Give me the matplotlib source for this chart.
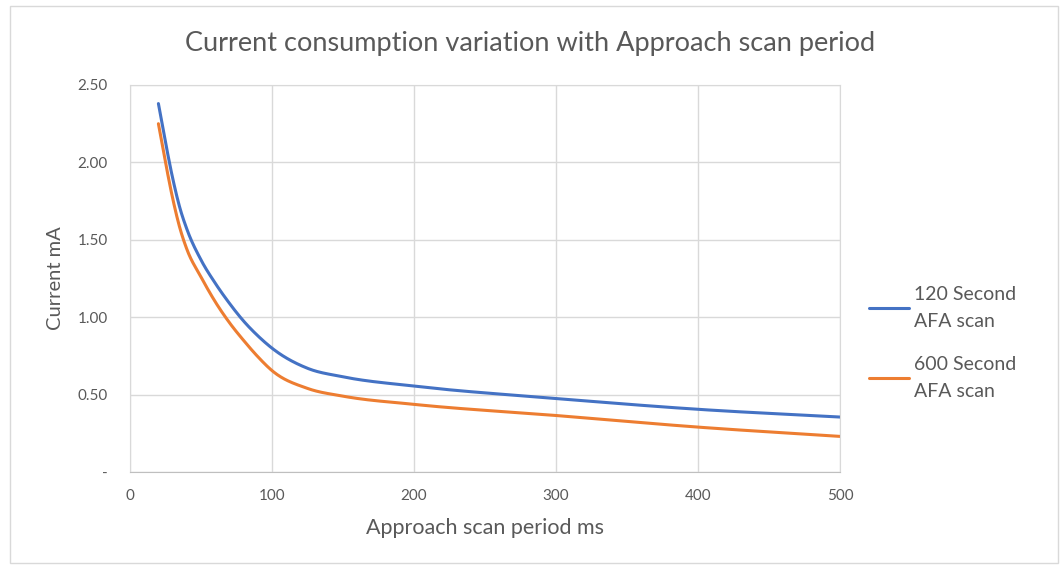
import numpy as np
import matplotlib
matplotlib.use("Agg")
import matplotlib.pyplot as plt
from matplotlib.patches import Rectangle

# ---- data ----
period_ms = [20, 25, 30, 35, 40, 50, 60, 70, 80, 90, 100, 125, 150, 200, 300, 400, 500]
current_120s = [2.38, 2.13, 1.90, 1.71, 1.57, 1.37, 1.22, 1.09, 0.975, 0.88, 0.80, 0.67, 0.615, 0.555, 0.475, 0.405, 0.355]
current_600s = [2.25, 2.00, 1.77, 1.58, 1.44, 1.26, 1.10, 0.965, 0.85, 0.745, 0.655, 0.54, 0.49, 0.437, 0.365, 0.29, 0.23]
series_labels = ["120 Second\nAFA scan", "600 Second\nAFA scan"]
x_ticks = [0, 100, 200, 300, 400, 500]
y_ticks = [0, 0.5, 1.0, 1.5, 2.0, 2.5]
y_ticklabels = ["-", "0.50", "1.00", "1.50", "2.00", "2.50"]


def smooth(x, y, n=40):
    """Cubic Hermite rendering through the points (smoothed line)."""
    x = np.asarray(x, float); y = np.asarray(y, float)
    h = np.diff(x); d = np.diff(y) / h
    m = np.empty_like(y)
    m[0], m[-1] = d[0], d[-1]
    m[1:-1] = (h[:-1] * d[1:] + h[1:] * d[:-1]) / (h[:-1] + h[1:])
    xs, ys = [], []
    t = np.linspace(0, 1, n, endpoint=False)
    for i in range(len(h)):
        h00 = 2 * t**3 - 3 * t**2 + 1; h10 = t**3 - 2 * t**2 + t
        h01 = -2 * t**3 + 3 * t**2; h11 = t**3 - t**2
        xs.extend(x[i] + t * h[i])
        ys.extend(h00 * y[i] + h10 * h[i] * m[i] + h01 * y[i + 1] + h11 * h[i] * m[i + 1])
    xs.append(x[-1]); ys.append(y[-1])
    return np.array(xs), np.array(ys)


plt.rcParams['font.family'] = ['Lato', 'DejaVu Sans']
grey = "#595959"

fig = plt.figure(figsize=(10.6, 5.66), dpi=100)
fig.patches.append(Rectangle((10 / 1060, 0.005), 1 - 12 / 1060, 0.985, transform=fig.transFigure,
                             fill=False, edgecolor="#d9d9d9", linewidth=1))
ax = fig.add_axes([130 / 1060, 1 - 472 / 566, 710 / 1060, 387 / 566])

colors = ["#4472C4", "#ED7D31"]
for ys, c, lab in zip([current_120s, current_600s], colors, series_labels):
    sx, sy = smooth(period_ms, ys)
    ax.plot(sx, sy, color=c, linewidth=2.2, label=lab, solid_capstyle="round")

ax.set_xlim(0, 500)
ax.set_ylim(0, 2.5)
ax.set_xticks(x_ticks)
ax.set_yticks(y_ticks)
ax.set_yticklabels(y_ticklabels)
ax.grid(True, color="#d9d9d9", linewidth=1)
ax.set_axisbelow(True)
for s in ax.spines.values():
    s.set_color("#d9d9d9")
ax.spines["bottom"].set_color("#bfbfbf")
ax.tick_params(length=0, labelsize=11, labelcolor=grey, pad=12)
ax.tick_params(axis="y", pad=16)

ax.set_xlabel("Approach scan period ms", fontsize=15.5, color=grey, labelpad=11)
ax.set_ylabel("Current mA", fontsize=14.5, color=grey, labelpad=10)
fig.text(0.5, 1 - 43 / 566, "Current consumption variation with Approach scan period",
         ha="center", va="center", fontsize=19.5, color=grey)

leg = fig.legend(loc="center left", bbox_to_anchor=(851 / 1060, 1 - 343 / 566), frameon=False,
                 fontsize=14, labelcolor=grey, handlelength=2.1, handletextpad=0.25, labelspacing=1.3)
for t in leg.get_texts():
    t.set_linespacing(1.75)

fig.savefig("out.png", dpi=100)
